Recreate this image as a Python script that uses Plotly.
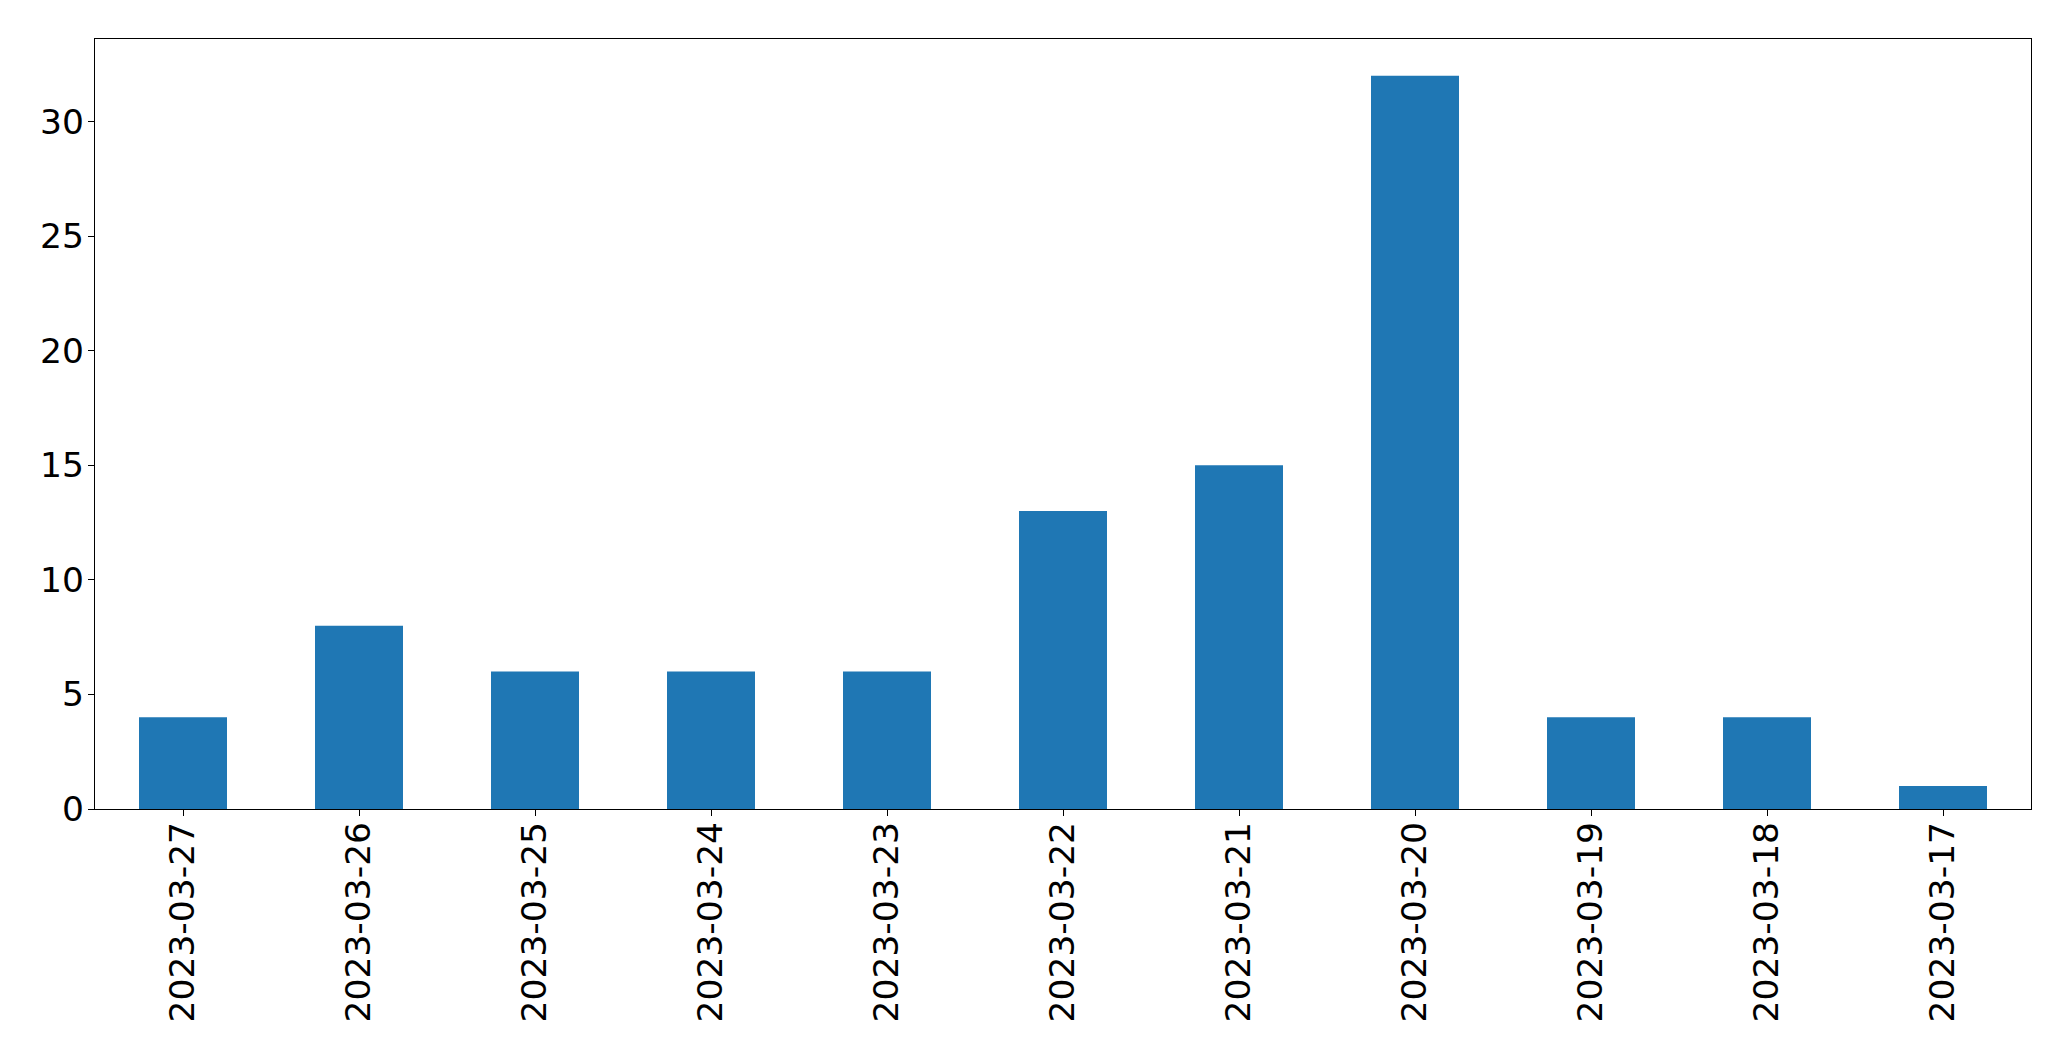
import plotly.graph_objects as go

dates = ["2023-03-27", "2023-03-26", "2023-03-25", "2023-03-24", "2023-03-23",
         "2023-03-22", "2023-03-21", "2023-03-20", "2023-03-19", "2023-03-18", "2023-03-17"]
counts = [4, 8, 6, 6, 6, 13, 15, 32, 4, 4, 1]
y_ticks = [0, 5, 10, 15, 20, 25, 30]

fig = go.Figure(go.Bar(x=dates, y=counts, marker=dict(color="#1f77b4", line=dict(width=0))))

font = dict(family="DejaVu Sans", size=34.5, color="black")
# page body has an 8px default margin, so the figure is 16px smaller than the window
fig.update_layout(
    width=2055, height=1045,
    margin=dict(l=86.5, r=32, t=31, b=244),
    plot_bgcolor="white", paper_bgcolor="white",
    bargap=0.5, showlegend=False, font=font,
)
fig.update_xaxes(type="category", range=[-0.5, len(dates) - 0.5], tickangle=-90,
                 showline=True, mirror=True, linecolor="black", linewidth=1.3,
                 ticks="outside", ticklen=6, tickwidth=1.3, tickcolor="black",
                 showgrid=False, tickfont=font, ticklabelstandoff=-8)
fig.update_yaxes(range=[0, max(counts) * 1.05], tickvals=y_ticks,
                 showline=True, mirror=True, linecolor="black", linewidth=1.3,
                 ticks="outside", ticklen=6, tickwidth=1.3, tickcolor="black",
                 showgrid=False, zeroline=False, tickfont=font, ticklabelstandoff=-3)
fig.write_html("out.html")
